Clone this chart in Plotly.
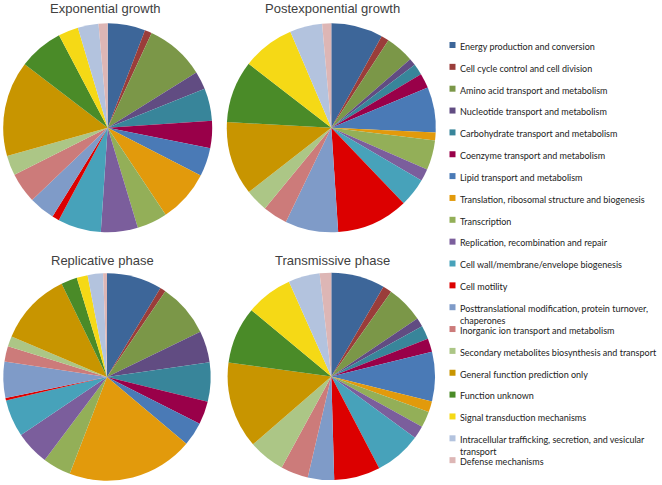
import plotly.graph_objects as go

categories = [
    "Energy production and conversion",
    "Cell cycle control and cell division",
    "Amino acid transport and metabolism",
    "Nucleotide transport and metabolism",
    "Carbohydrate transport and metabolism",
    "Coenzyme transport and metabolism",
    "Lipid transport and metabolism",
    "Translation, ribosomal structure and biogenesis",
    "Transcription",
    "Replication, recombination and repair",
    "Cell wall/membrane/envelope biogenesis",
    "Cell motility",
    "Posttranslational modification, protein turnover,<br>chaperones",
    "Inorganic ion transport and metabolism",
    "Secondary metabolites biosynthesis and transport",
    "General function prediction only",
    "Function unknown",
    "Signal transduction mechanisms",
    "Intracellular trafficking, secretion, and vesicular<br>transport",
    "Defense mechanisms",
]

panel_titles = ["Exponential growth", "Postexponential growth",
                "Replicative phase", "Transmissive phase"]

exponential = [5.8, 1.1, 9.2, 2.8, 5.0, 4.2, 4.4, 8.1, 4.7, 5.7,
               6.7, 1.1, 4.0, 4.7, 3.1, 14.7, 6.9, 3.1, 3.2, 1.4]
postexponential = [8.0, 1.2, 4.4, 1.1, 1.7, 2.3, 7.0, 1.2, 4.6, 1.9,
                   4.4, 11.1, 8.2, 3.8, 3.5, 11.4, 9.6, 8.1, 5.0, 1.4]
replicative = [8.6, 0.9, 8.3, 4.9, 6.1, 3.6, 3.7, 19.7, 4.4, 5.3,
               5.8, 0.4, 5.6, 2.4, 1.6, 11.4, 2.5, 1.7, 2.4, 0.6]
transmissive = [8.4, 1.4, 5.8, 1.4, 2.1, 2.1, 7.7, 1.7, 2.5, 2.0,
                7.3, 7.2, 4.1, 4.3, 5.7, 13.5, 8.9, 7.3, 4.9, 1.8]

colors = ["#3D6699", "#9A3D3A", "#7B9748", "#614C82", "#38859A",
          "#990049", "#4A7AB6", "#E29A0C", "#93AF58", "#7B5E9C",
          "#47A2BA", "#DC0000", "#7F9BC8", "#CC7B7A", "#ACC686",
          "#C89500", "#4A8B28", "#F5D916", "#B3C3DE", "#DDB6B5"]

W, H = 662, 485


def px(x):
    return min(max(x / W, 0.0), 1.0)


def py(y):
    return min(max(1 - y / H, 0.0), 1.0)


# pie centres and radii in window pixels
pies = [
    (exponential, 107.7, 127.8, 104.5),
    (postexponential, 331.3, 127.8, 104.5),
    (replicative, 107.0, 377.0, 103.7),
    (transmissive, 331.3, 376.4, 103.7),
]
title_pos = [(105, 8), (332, 8), (102, 260), (332, 260)]

fig = go.Figure()
for (vals, cx, cy, r) in pies:
    fig.add_trace(go.Pie(
        labels=categories,
        values=vals,
        sort=False,
        direction="clockwise",
        rotation=0,
        textinfo="none",
        hoverinfo="label+percent",
        marker=dict(colors=colors, line=dict(width=0)),
        domain=dict(x=[px(cx - r), px(cx + r)], y=[py(cy + r), py(cy - r)]),
        showlegend=False,
    ))

annotations = []
for t, (tx, ty) in zip(panel_titles, title_pos):
    annotations.append(dict(
        text=t, x=px(tx), y=py(ty), xref="paper", yref="paper",
        xanchor="center", yanchor="middle", showarrow=False,
        font=dict(family="Liberation Sans, Arial", size=13, color="#404040"),
    ))

shapes = []
y0, step = 45.0, 21.85
for i, (lab, col) in enumerate(zip(categories, colors)):
    yc = y0 + step * i
    shapes.append(dict(
        type="rect", xref="paper", yref="paper",
        x0=px(449.5), x1=px(455.5), y0=py(yc + 3), y1=py(yc - 3),
        fillcolor=col, line=dict(width=0),
    ))
    annotations.append(dict(
        text=lab, x=px(457.5), y=py(yc - 6.2), xref="paper", yref="paper",
        xanchor="left", yanchor="top", align="left", showarrow=False,
        font=dict(family="Lato, Carlito, Calibri, sans-serif", size=9, color="#222222"),
    ))

fig.update_layout(
    width=W, height=H, autosize=False,
    margin=dict(l=0, r=0, t=0, b=0),
    paper_bgcolor="white", plot_bgcolor="white",
    annotations=annotations, shapes=shapes,
)

fig.write_html("out.html", config={"displayModeBar": False},
               post_script="document.body.style.margin='0';")
